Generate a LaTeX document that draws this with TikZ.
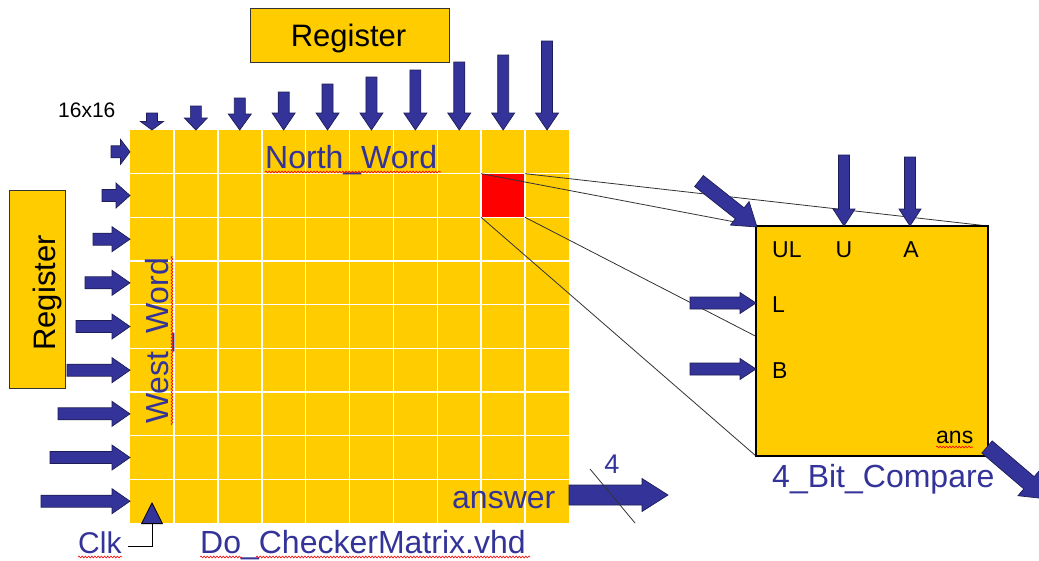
\documentclass[tikz,border=0pt]{standalone}
\usepackage{fontspec}
\setmainfont{Liberation Sans}
\usetikzlibrary{calc,arrows.meta,decorations.pathmorphing}
\definecolor{chipyellow}{HTML}{FFCC00}
\definecolor{wireblue}{HTML}{333399}
\definecolor{arrowedge}{HTML}{1E1E55}
\newcommand\fsz[1]{\fontsize{#1pt}{#1pt}\selectfont}
% filled block arrow: tail, tip, half shaft width, half head width, head length
\newcommand\blockarrow[5]{%
  \coordinate (ab-base) at ($(#2)!#5!(#1)$);
  \filldraw[blockarrowstyle]
    ($(#1)!#3!90:(#2)$) -- ($(ab-base)!#3!-90:(#1)$) --
    ($(ab-base)!#4!-90:(#1)$) -- (#2) --
    ($(ab-base)!#4!90:(#1)$) -- ($(ab-base)!#3!90:(#1)$) --
    ($(#1)!#3!-90:(#2)$) -- cycle;}
\begin{document}
\begin{tikzpicture}[x=1pt,y=-1pt,
  blockarrowstyle/.style={fill=wireblue, draw=arrowedge, line width=0.7pt, line join=miter},
  gridline/.style={white, line width=1.6pt},
  zoomline/.style={draw=black!80, line width=0.8pt},
  regbox/.style={fill=chipyellow, draw=black!80, line width=1pt, inner sep=0, outer sep=0},
  bluelabel/.style={text=wireblue, inner sep=0, font=\fsz{32}},
  pinlabel/.style={text=black, inner sep=0, font=\fsz{23}},
  wavy/.style={red, line width=0.6pt, decorate, decoration={snake, amplitude=0.9pt, segment length=3.2pt}},
]
\clip (0,0) rectangle (1039,560);
\fill[white] (0,0) rectangle (1039,560);

% register boxes
\node[regbox, anchor=north west, minimum width=199pt, minimum height=54pt] (regN) at (250,8) {};
\node[anchor=base, inner sep=0, font=\fsz{31}] (regNtxt) at (348.5,46) {Register};
\node[regbox, anchor=north west, minimum width=56pt, minimum height=198pt] (regW) at (9,190) {};
\node[anchor=base, rotate=90, inner sep=0, font=\fsz{31}] (regWtxt) at (55,293) {Register};

% the checker matrix
\node[fill=chipyellow, inner sep=0, outer sep=0, minimum width=439pt, minimum height=393pt, anchor=north west] (mat) at (130,130) {};
\node[fill=red, inner sep=0, outer sep=0, minimum width=43.9pt, minimum height=43.67pt, anchor=north west] (hit) at (481.2,173.67) {};
\foreach \i in {1,...,9} \draw[gridline] (130+43.9*\i,130) -- (130+43.9*\i,523);
\foreach \j in {1,...,8} \draw[gridline] (130,130+43.667*\j) -- (569,130+43.667*\j);

% comparator cell, zoomed out of the red square
\path node[minimum width=232pt, minimum height=230pt, anchor=north west, inner sep=0, outer sep=0] (cmp) at (756,226) {};
\draw[zoomline] (hit.north west) -- (cmp.north west);
\draw[zoomline] (hit.north east) -- (cmp.north east);
\draw[zoomline] (hit.south west) -- (cmp.south west);
\draw[zoomline] (hit.south east) -- (cmp.south east);
\filldraw[fill=chipyellow, draw=black, line width=1.3pt] (cmp.north west) rectangle (cmp.south east);

% north word inputs
\foreach \i/\t in {0/113,1/106,2/98,3/92,4/84,5/77,6/70,7/62,8/55,9/41}{
  \pgfmathsetmacro\cx{130+43.9*(\i+0.5)}
  \pgfmathsetmacro\hl{min(17,0.5*(130-\t))}
  \coordinate (nt\i) at (\cx,\t);
  \coordinate (nb\i) at (\cx,130);
  \blockarrow{nt\i}{nb\i}{5.5pt}{11.5pt}{\hl pt}
}
% west word inputs
\foreach \j/\s in {0/111,1/102,2/93,3/85,4/76,5/67,6/58,7/50,8/41}{
  \pgfmathsetmacro\cy{130+43.667*(\j+0.5)}
  \pgfmathsetmacro\hl{min(18,0.5*(130-\s))}
  \coordinate (wt\j) at (\s,\cy);
  \coordinate (wb\j) at (130,\cy);
  \blockarrow{wt\j}{wb\j}{6pt}{12.5pt}{\hl pt}
}

% comparator pins
\coordinate (ulT) at (699,181);  \coordinate (ulP) at (757,227);
\coordinate (uT) at (844,155);   \coordinate (uP) at (844,226);
\coordinate (aT) at (910,157);   \coordinate (aP) at (910,226);
\coordinate (lT) at (690,303);   \coordinate (lP) at (756,303);
\coordinate (bT) at (690,369);   \coordinate (bP) at (756,369);
\coordinate (ansT) at (987,447); \coordinate (ansP) at (1048,499);
\blockarrow{ulT}{ulP}{7pt}{15pt}{22pt}
\blockarrow{uT}{uP}{5.5pt}{11pt}{17pt}
\blockarrow{aT}{aP}{5.5pt}{11pt}{17pt}
\blockarrow{lT}{lP}{6pt}{10.5pt}{16pt}
\blockarrow{bT}{bP}{6pt}{10.5pt}{16pt}
\blockarrow{ansT}{ansP}{8pt}{17pt}{25pt}

% 4-bit answer bus
\coordinate (outT) at (569,495); \coordinate (outP) at (668,495);
\blockarrow{outT}{outP}{10pt}{16.5pt}{26pt}
\coordinate (slashA) at (590,469); \coordinate (slashB) at (635,523);
\draw[black!80, line width=0.8pt] (slashA) -- (slashB);
\node[anchor=base, text=wireblue, inner sep=0, font=\fsz{27}] (busw) at (612,473) {4};

% clock input
\coordinate (clkin) at (128,546); \coordinate (clktip) at (152,502);
\draw[black, line width=0.8pt, -{Triangle[width=22pt,length=22pt,fill=wireblue]}] (clkin) -| (clktip);

% labels
\node[anchor=base west, inner sep=0, font=\fsz{21}] (size) at (58,117) {16x16};
\node[anchor=base west, bluelabel] (north) at (265,168) {North\_Word};
\node[anchor=base west, bluelabel, rotate=90] (west) at (168,424) {West\_Word};
\node[anchor=base west, bluelabel, font=\fsz{30}] (clk) at (78,553) {Clk};
\node[anchor=base west, bluelabel] (file) at (200,553) {Do\_CheckerMatrix.vhd};
\node[anchor=base west, bluelabel] (answer) at (452,508) {answer};
\node[anchor=base west, bluelabel] (cmpname) at (772,487) {4\_Bit\_Compare};
\node[anchor=base west, pinlabel] (pUL) at (772,257) {UL};
\node[anchor=base, pinlabel] (pU) at (844,257) {U};
\node[anchor=base, pinlabel] (pA) at (911,257) {A};
\node[anchor=base west, pinlabel] (pL) at (772,312) {L};
\node[anchor=base west, pinlabel] (pB) at (772,378) {B};
\node[anchor=base west, pinlabel] (pans) at (936,443) {ans};

% spell-check squiggles
\draw[wavy] (265,172) -- (441,172);
\draw[wavy] (172,425) -- (172,256);
\draw[wavy] (78,557) -- (122,557);
\draw[wavy] (200,557) -- (242,557);
\draw[wavy] (256,557) -- (530,557);
\draw[wavy] (936,447) -- (973,447);
\end{tikzpicture}
\end{document}
